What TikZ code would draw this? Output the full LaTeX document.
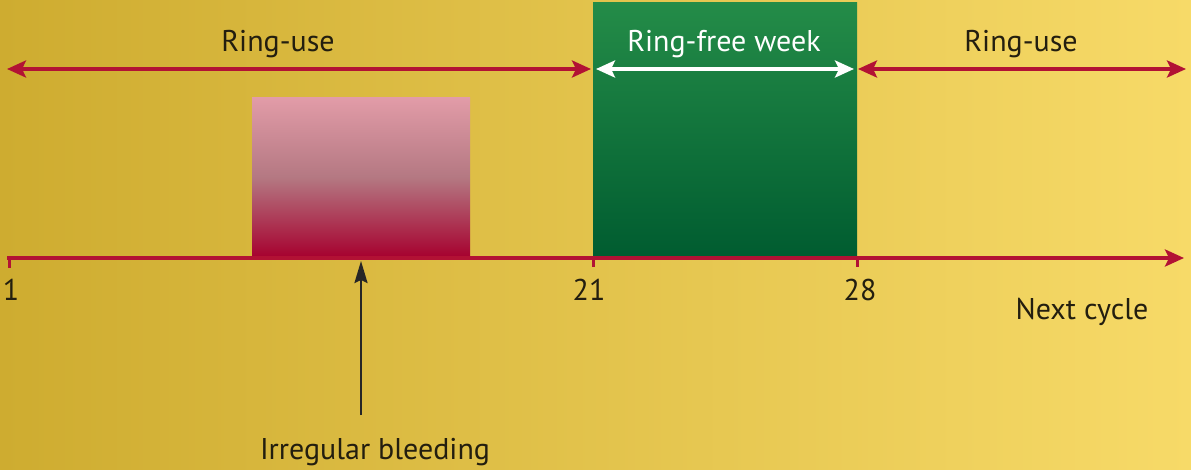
\documentclass[tikz,border=0pt]{standalone}
\usepackage{fontspec}
\setmainfont{PT Sans}
\usetikzlibrary{arrows.meta}
\definecolor{bgL}{RGB}{206,172,48}
\definecolor{bgR}{RGB}{247,218,104}
\definecolor{grT}{RGB}{36,140,72}
\definecolor{grB}{RGB}{0,92,48}
\definecolor{pkT}{RGB}{226,156,168}
\definecolor{pkB}{RGB}{166,0,46}
\definecolor{lineRed}{RGB}{178,18,52}
\definecolor{txt}{RGB}{35,30,15}
\tikzset{
  redline/.style={draw=lineRed, line width=3.6pt},
  tipA/.tip={Stealth[length=19pt,width=17pt,inset=4pt]},
  redarrows/.style={redline, tipA-tipA},
  whitearrows/.style={draw=white, line width=3.6pt, tipA-tipA},
  lbl/.style={font=\fontsize{30}{34}\selectfont, text=txt, inner sep=0pt},
  tick/.style={draw=lineRed, line width=3pt}
}
\begin{document}
\begin{tikzpicture}[x=1pt,y=-1pt]
\useasboundingbox (0,0) rectangle (1191,469);
\shade[shading angle=115, left color=bgL, right color=bgR] (0,0) rectangle (1191,469);
% boxes
\shade[top color=grT, bottom color=grB] (593,2) rectangle (857,258);
\shade[top color=pkT, bottom color=pkB, middle color={rgb,255:red,180;green,120;blue,130}] (252,97) rectangle (470,258);
% coordinates
\coordinate (tl0) at (7,258);
\coordinate (tlEnd) at (1184,258);
\coordinate (t1) at (9,257);
\coordinate (t21) at (593,257);
\coordinate (t28) at (857,257);
\coordinate (t1b) at (9,268);
\coordinate (t21b) at (593,267);
\coordinate (t28b) at (857,267);
\coordinate (a1) at (7,69);
\coordinate (a2) at (591,69);
\coordinate (w1) at (596,69);
\coordinate (w2) at (854,69);
\coordinate (b1) at (858,69);
\coordinate (b2) at (1186,69);
\coordinate (bleedTail) at (361,415);
\coordinate (bleedHead) at (361,261);
% timeline
\draw[redline, -tipA] (tl0) -- (tlEnd);
\draw[tick] (t1) -- (t1b);
\draw[tick] (t21) -- (t21b);
\draw[tick] (t28) -- (t28b);
% top arrows
\draw[redarrows] (a1) -- (a2);
\draw[whitearrows] (w1) -- (w2);
\draw[redarrows] (b1) -- (b2);
% bleeding arrow
\draw[draw=black!85, line width=2.4pt, -{Stealth[length=22pt,width=13pt,inset=3pt]}] (bleedTail) -- (bleedHead);
% labels
\node[lbl] (lRing1) at (278,44) {Ring-use};
\node[lbl, text=white] (lFree) at (724,44) {Ring-free week};
\node[lbl] (lRing2) at (1021,44) {Ring-use};
\node[lbl] (n1) at (11,290) {1};
\node[lbl] (n21) at (589,290) {21};
\node[lbl] (n28) at (860,290) {28};
\node[lbl] (next) at (1082,312) {Next cycle};
\node[lbl] (bleed) at (375,452) {Irregular bleeding};
\end{tikzpicture}
\end{document}
